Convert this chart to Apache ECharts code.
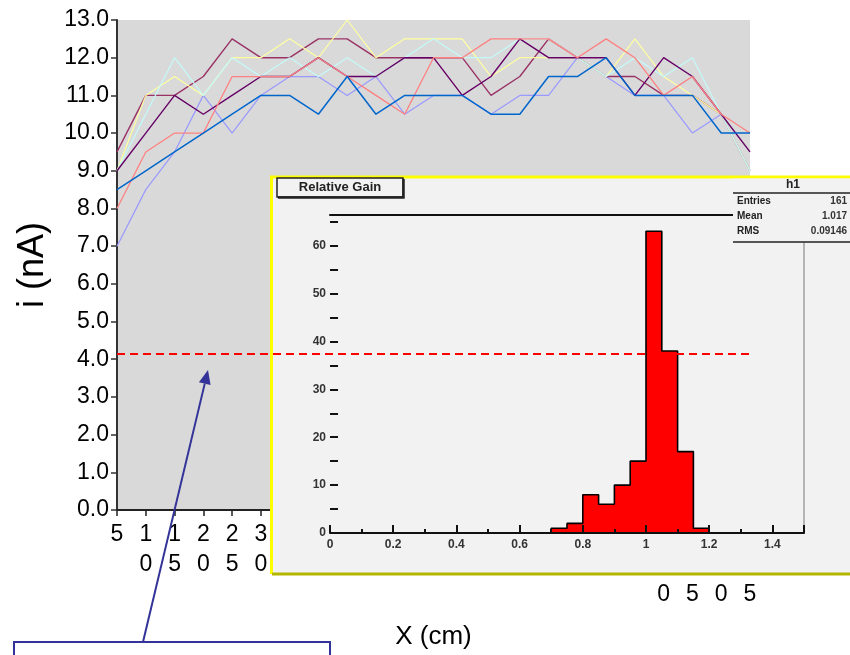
<!DOCTYPE html>
<html><head><meta charset="utf-8">
<script src="https://cdn.jsdelivr.net/npm/echarts@6/dist/echarts.min.js"></script>
<style>html,body{margin:0;padding:0;background:#fff}#c{width:850px;height:655px}</style>
</head><body><div id="c"></div>
<script>
// ---- main chart data ----
const positions = ['5','10','15','20','25','30','35','40','45','50','55','60','65','70','75','80','85','90','95','100','105','110','115'];
const seriesLavender = [7, 8.5, 9.5, 11, 10, 11, 11.5, 11.5, 11, 11.5, 10.5, 11, 11, 10.5, 11, 11, 12, 11.5, 11, 11, 10, 10.5, 9];
const seriesPlum     = [9.5, 11, 11, 11.5, 12.5, 12, 12, 12.5, 12.5, 12, 12, 12, 12, 11, 11.5, 12.5, 12, 11.5, 11.5, 11, 11, 10.5, 9];
const seriesYellow   = [9, 11, 11.5, 11, 12, 12, 12.5, 12, 13, 12, 12.5, 12.5, 12.5, 11.5, 12, 12, 12, 11.5, 12.5, 11.5, 11, 10.5, 9];
const seriesCyan     = [9, 10.5, 12, 11, 12, 11.5, 12, 11.5, 12, 11.5, 12, 12.5, 12, 12, 12.5, 12.5, 12, 11.5, 12, 11.5, 12, 10.5, 9];
const seriesPurple   = [9, 10, 11, 10.5, 11, 11.5, 11.5, 12, 11.5, 11.5, 12, 12, 11, 11.5, 12.5, 12, 12, 12, 11, 12, 11.5, 10.5, 9.5];
const seriesSalmon   = [8, 9.5, 10, 10, 11.5, 11.5, 11.5, 12, 11.5, 11, 10.5, 12, 12, 12.5, 12.5, 12.5, 12, 12.5, 12, 11, 11.5, 10.5, 10];
const seriesBlue     = [8.5, 9, 9.5, 10, 10.5, 11, 11, 10.5, 11.5, 10.5, 11, 11, 11, 10.5, 10.5, 11.5, 11.5, 12, 11, 11, 11, 10, 10];
const thresholdLevel = [4.15];

// ---- inset histogram data ----
const histBinStarts = [0.70, 0.75, 0.80, 0.85, 0.90, 0.95, 1.00, 1.05, 1.10, 1.15];
const histBinEnd = [1.20];
const histCounts = [1, 2, 8, 6, 10, 15, 63, 38, 17, 1];
const histTitle = ['Relative Gain'];
const statsName = ['h1'];
const statsLabels = ['Entries', 'Mean', 'RMS'];
const statsValues = ['161', '1.017', '0.09146'];

const FONT = 'Liberation Sans, Arial, Helvetica, sans-serif';

const histData = [[histBinStarts[0], 0]]
  .concat(histBinStarts.map((x, i) => [x, histCounts[i]]))
  .concat([[histBinEnd[0], 0]]);

const lineDefs = [
  {name: 'lavender', data: seriesLavender, color: '#9999FF', w: 1.2},
  {name: 'plum', data: seriesPlum, color: '#993366', w: 1.4},
  {name: 'yellow', data: seriesYellow, color: '#FFFFA0', w: 1.2},
  {name: 'cyan', data: seriesCyan, color: '#C4FAFA', w: 1.2},
  {name: 'purple', data: seriesPurple, color: '#660066', w: 1.4},
  {name: 'salmon', data: seriesSalmon, color: '#FF8080', w: 1.3},
  {name: 'blue', data: seriesBlue, color: '#0066CC', w: 1.5}
];

const series = lineDefs.map(d => ({
  type: 'line', name: d.name, xAxisIndex: 0, yAxisIndex: 0,
  data: d.data, symbol: 'none', z: 2,
  lineStyle: {color: d.color, width: d.w}, itemStyle: {color: d.color}
}));
series[series.length - 1].markLine = {
  silent: true, z: 8, symbol: ['none', 'none'], label: {show: false},
  lineStyle: {color: '#ff0000', type: [8, 5], width: 2},
  data: [{yAxis: thresholdLevel[0]}]
};
series.push({
  type: 'line', name: 'h1', xAxisIndex: 1, yAxisIndex: 1,
  data: histData, step: 'end', symbol: 'none', z: 5,
  lineStyle: {color: '#000', width: 1.6},
  areaStyle: {color: '#ff0000', opacity: 1}
});

// arrow geometry (annotation)
const aFrom = [143, 642], aTo = [208, 370];
const dx = aTo[0] - aFrom[0], dy = aTo[1] - aFrom[1];
const L = Math.hypot(dx, dy), ux = dx / L, uy = dy / L;
const bx = aTo[0] - ux * 14, by = aTo[1] - uy * 14;
const px = -uy * 6, py = ux * 6;

const chart = echarts.init(document.getElementById('c'), null, {renderer: 'canvas'});
chart.setOption({
  animation: false,
  backgroundColor: '#ffffff',
  grid: [
    {left: 117, right: 100, top: 20, bottom: 145, show: true, backgroundColor: '#d9d9d9', borderWidth: 0, z: 0},
    {left: 330, right: 46, top: 215, bottom: 122, show: false, z: 4}
  ],
  xAxis: [
    {type: 'category', gridIndex: 0, data: positions, boundaryGap: false,
     name: 'X (cm)', nameLocation: 'middle', nameGap: 114,
     nameTextStyle: {fontFamily: FONT, fontSize: 26, color: '#000'},
     axisLine: {lineStyle: {color: '#222', width: 2}},
     axisTick: {show: true, length: 6, alignWithLabel: true, lineStyle: {color: '#222', width: 1.5}},
     axisLabel: {interval: 0, margin: 10, fontFamily: FONT, fontSize: 23, color: '#000', lineHeight: 30,
       formatter: v => String(v).split('').join('\n')},
     splitLine: {show: false}, z: 0},
    {type: 'value', gridIndex: 1, min: 0, max: 1.5, interval: 0.2, position: 'bottom', z: 8,
     axisLine: {onZero: false, lineStyle: {color: '#111', width: 2}},
     axisTick: {show: true, inside: true, length: 8, lineStyle: {color: '#111', width: 2}},
     minorTick: {show: true, splitNumber: 2, length: 4, lineStyle: {color: '#111', width: 2}},
     axisLabel: {margin: 6, fontFamily: FONT, fontSize: 12, fontWeight: 'bold', color: '#333', showMaxLabel: false,
       formatter: v => (Math.abs(v - 1.5) < 1e-6 ? '' : String(+v.toFixed(1)))},
     splitLine: {show: false}},
    {type: 'value', gridIndex: 1, min: 0, max: 1.5, position: 'top', z: 8,
     axisLine: {onZero: false, lineStyle: {color: '#111', width: 2}},
     axisTick: {show: false}, axisLabel: {show: false}, splitLine: {show: false}}
  ],
  yAxis: [
    {type: 'value', gridIndex: 0, min: 0, max: 13, interval: 1,
     name: 'i (nA)', nameLocation: 'middle', nameGap: 66, nameRotate: 90,
     nameTextStyle: {fontFamily: FONT, fontSize: 36, color: '#000'},
     axisLine: {show: true, lineStyle: {color: '#333', width: 2}},
     axisTick: {show: true, length: 6, lineStyle: {color: '#333', width: 1.5}},
     axisLabel: {margin: 8, fontFamily: FONT, fontSize: 23, color: '#000', formatter: v => v.toFixed(1)},
     splitLine: {show: false}, z: 0},
    {type: 'value', gridIndex: 1, min: 0, max: 66.4, interval: 5, z: 8,
     axisLine: {show: false, onZero: false},
     axisTick: {show: true, inside: true, length: 8, lineStyle: {color: '#111', width: 2}},
     axisLabel: {margin: 4, fontFamily: FONT, fontSize: 12, fontWeight: 'bold', color: '#333', showMaxLabel: false,
       formatter: v => (v % 10 === 0 && v <= 60 ? String(v) : '')},
     splitLine: {show: false}},
    {type: 'value', gridIndex: 1, min: 0, max: 66.4, position: 'right', z: 8,
     axisLine: {show: true, onZero: false, lineStyle: {color: '#a0a0a0', width: 1.5}},
     axisTick: {show: false}, axisLabel: {show: false}, splitLine: {show: false}}
  ],
  series: series,
  graphic: [
    // inset panel
    {type: 'rect', z: 3, silent: true, shape: {x: 271, y: 176, width: 582, height: 398},
     style: {fill: '#f2f2f2'}},
    {type: 'polyline', z: 3, silent: true, shape: {points: [[271.5, 574], [271.5, 177], [852, 177]]},
     style: {stroke: '#ffff00', lineWidth: 3, fill: null}},
    {type: 'line', z: 3, silent: true, shape: {x1: 272, y1: 574, x2: 852, y2: 574},
     style: {stroke: '#b5b500', lineWidth: 3}},
    // title box
    {type: 'rect', z: 9, silent: true, shape: {x: 277, y: 178, width: 126, height: 19},
     style: {fill: '#f2f2f2', stroke: '#222', lineWidth: 1.5}},
    {type: 'polyline', z: 9, silent: true, shape: {points: [[403.5, 179], [403.5, 197.5], [278, 197.5]]},
     style: {stroke: '#222', lineWidth: 2.5, fill: null}},
    {type: 'text', z: 10, silent: true, x: 340, y: 187.5,
     style: {text: histTitle[0], fill: '#222', font: 'bold 13px ' + FONT, align: 'center', verticalAlign: 'middle'}},
    // stats box
    {type: 'rect', z: 9, silent: true, shape: {x: 733, y: 178.5, width: 120, height: 64},
     style: {fill: '#f2f2f2'}},
    {type: 'line', z: 9, silent: true, shape: {x1: 733, y1: 193, x2: 852, y2: 193},
     style: {stroke: '#222', lineWidth: 1.5}},
    {type: 'line', z: 9, silent: true, shape: {x1: 733, y1: 242, x2: 852, y2: 242},
     style: {stroke: '#222', lineWidth: 1.5}},
    {type: 'text', z: 10, silent: true, x: 793, y: 185,
     style: {text: statsName[0], fill: '#222', font: 'bold 12px ' + FONT, align: 'center', verticalAlign: 'middle'}},
    ...statsLabels.map((t, i) => ({type: 'text', z: 10, silent: true, x: 737, y: 201 + i * 15,
     style: {text: t, fill: '#222', font: 'bold 10px ' + FONT, align: 'left', verticalAlign: 'middle'}})),
    ...statsValues.map((t, i) => ({type: 'text', z: 10, silent: true, x: 847, y: 201 + i * 15,
     style: {text: t, fill: '#333', font: 'bold 10px ' + FONT, align: 'right', verticalAlign: 'middle'}})),
    // annotation box + arrow
    {type: 'rect', z: 12, silent: true, shape: {x: 14, y: 642, width: 316, height: 40},
     style: {fill: '#ffffff', stroke: '#333399', lineWidth: 2}},
    {type: 'line', z: 12, silent: true, shape: {x1: aFrom[0], y1: aFrom[1], x2: bx, y2: by},
     style: {stroke: '#333399', lineWidth: 2}},
    {type: 'polygon', z: 12, silent: true,
     shape: {points: [[aTo[0], aTo[1]], [bx + px, by + py], [bx - px, by - py]]},
     style: {fill: '#333399'}}
  ]
});
</script>
</body></html>
